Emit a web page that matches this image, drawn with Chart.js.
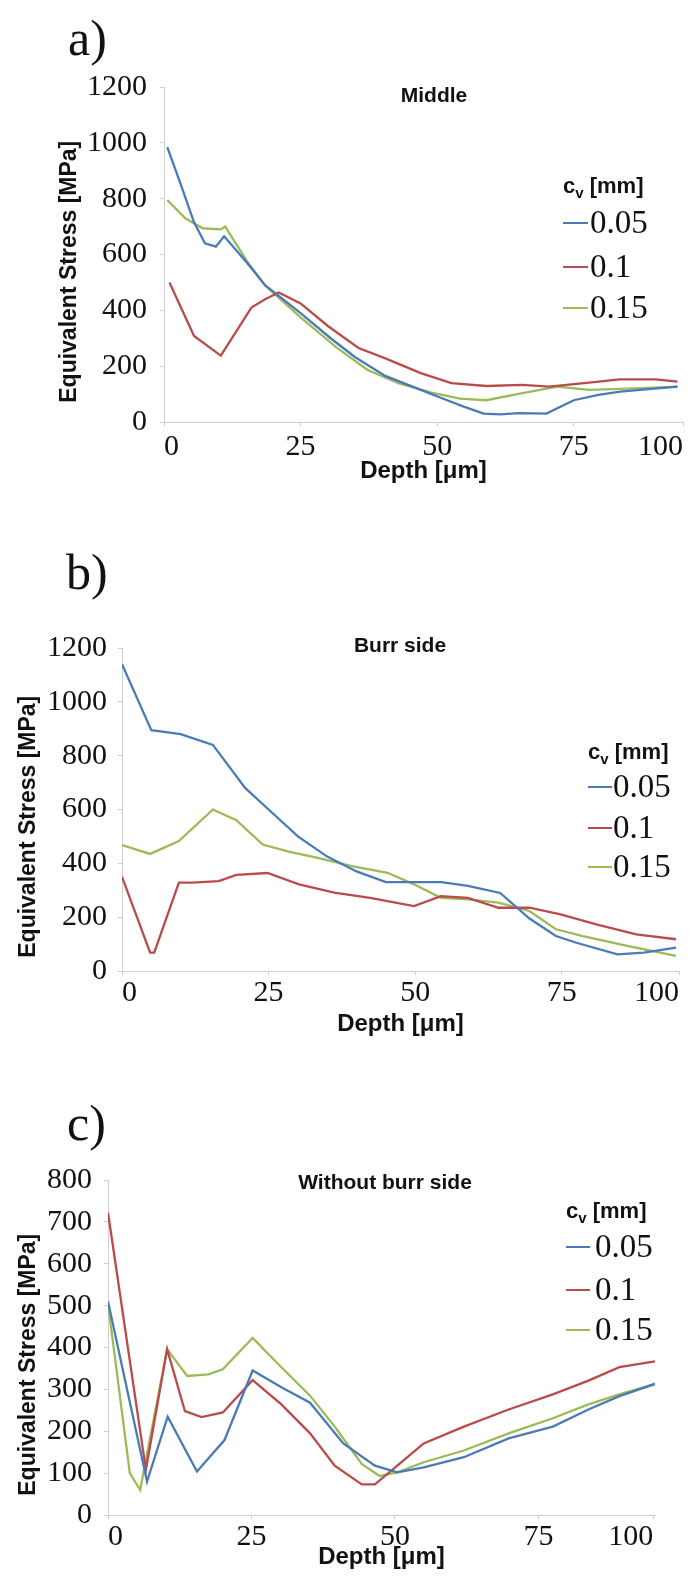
<!DOCTYPE html>
<html>
<head>
<meta charset="utf-8">
<script src="https://cdn.jsdelivr.net/npm/chart.js@4.4.0/dist/chart.umd.min.js"></script>
<style>
  html, body { margin:0; padding:0; background:#fff; }
  #page { position:relative; width:694px; height:1585px; overflow:hidden; background:#fff; }
  #page canvas { position:absolute; left:0; }
  .panel { position:absolute; font-family:"Liberation Serif", serif; font-size:50px; line-height:50px; color:#111; }
  .ttl { position:absolute; font-family:"Liberation Sans", Arial, sans-serif; font-weight:bold; font-size:21px; line-height:21px;
         color:#111; white-space:nowrap; transform:translateX(-50%); }
  .lhead { position:absolute; font-family:"Liberation Sans", Arial, sans-serif; font-weight:bold; font-size:22px; line-height:22px; color:#111; white-space:nowrap; }
  .lhead sub { font-size:15px; vertical-align:-5px; }
  .ldash { position:absolute; height:2px; }
  .ltxt { position:absolute; font-family:"Liberation Serif", serif; font-size:33px; line-height:33px; color:#111; }
</style>
</head>
<body>
<div id="page">
  <canvas id="chartA" width="694" height="500" style="top:0px;width:694px;height:500px"></canvas>
  <canvas id="chartB" width="694" height="545" style="top:500px;width:694px;height:545px"></canvas>
  <canvas id="chartC" width="694" height="540" style="top:1045px;width:694px;height:540px"></canvas>
</div>
<script>
// series names / colours (c_v in mm)
const seriesNames = ['0.05', '0.1', '0.15'];
const seriesColors = ['#4a7bb7', '#bb4b4b', '#9bbb59'];

const xTickValues = [0, 25, 50, 75, 95];
const xTickLabels = ['0', '25', '50', '75', '100'];

// a) Middle
const depthA1 = [0.6, 3, 5.5, 7.5, 9.5, 11, 15, 18.5, 25, 30.5, 35, 40.5, 47, 51, 55, 58.5, 61.5, 65, 70, 75, 79.5, 83.5, 94];
const stressA1 = [985, 855, 715, 640, 628, 665, 575, 490, 390, 300, 232, 165, 115, 84, 54, 30, 27, 32, 30, 78, 97, 109, 127];
const depthA2 = [1, 5.5, 10.4, 16, 18.5, 21, 25, 30, 35.6, 40.4, 47, 52.6, 59, 65.6, 70.5, 77.8, 83.4, 90, 94];
const stressA2 = [500, 308, 238, 410, 440, 464, 425, 344, 265, 229, 175, 139, 129, 133, 127, 141, 153, 153, 145];
const depthA3 = [0.6, 3.9, 7.1, 10.4, 11.2, 15.3, 18.5, 25, 31.5, 37.2, 42.9, 49.4, 54.2, 59, 65.6, 72, 77.8, 87.5, 94];
const stressA3 = [795, 730, 694, 690, 700, 573, 489, 375, 268, 187, 139, 103, 84, 78, 103, 127, 115, 121, 127];

// b) Burr side
const depthB1 = [0, 5, 10, 15.5, 21, 25, 30, 35, 40, 45, 50, 54.5, 59, 64.5, 69.5, 74, 77.5, 84.5, 89, 94.5];
const stressB1 = [1140, 895, 880, 840, 680, 600, 500, 425, 370, 330, 330, 330, 316, 290, 195, 130, 105, 62, 68, 87];
const depthB2 = [0, 4.8, 5.5, 9.7, 12, 16.5, 19.5, 24.8, 30.2, 36.2, 42.3, 49.8, 54.4, 59, 64.2, 69.5, 74.8, 80.9, 87.7, 94.5];
const stressB2 = [350, 68, 68, 328, 328, 334, 357, 364, 322, 291, 272, 241, 278, 272, 235, 235, 210, 173, 136, 118];
const depthB3 = [0, 4.8, 9.7, 15.5, 19.5, 24, 28.6, 33.2, 39.2, 45.3, 49.8, 54.4, 59, 64.2, 69.5, 74, 78.6, 86.2, 94.5];
const stressB3 = [468, 435, 483, 600, 560, 470, 443, 421, 390, 365, 322, 272, 266, 254, 223, 155, 130, 93, 56];

// c) Without burr side
const depthC1 = [0, 6.8, 10.4, 15.5, 20.3, 25.2, 30.2, 35.2, 41, 46.5, 50.4, 55, 62, 69.8, 77.5, 83.7, 89.1, 95.3];
const stressC1 = [510, 80, 235, 104, 179, 345, 305, 268, 171, 118, 102, 114, 138, 183, 211, 252, 284, 313];
const depthC2 = [0, 6.6, 10.3, 13.4, 16.3, 20, 25.2, 30.2, 35.2, 39.5, 44.2, 46.5, 50.4, 55, 62, 69.8, 77.5, 83.7, 89.1, 95.3];
const stressC2 = [722, 108, 396, 248, 234, 245, 322, 264, 195, 118, 73, 73, 118, 171, 211, 252, 288, 321, 353, 367];
const depthC3 = [0, 3.8, 5.6, 10.3, 13.8, 17.5, 20, 25.2, 30.2, 35.2, 39.5, 44.2, 47.3, 50.4, 55, 62, 69.8, 77.5, 83.7, 89.1, 95.3];
const stressC3 = [505, 100, 60, 396, 332, 336, 348, 423, 353, 285, 211, 122, 93, 102, 126, 154, 195, 231, 264, 288, 313];

const panels = [
  { id:'chartA', label:'a)', labelLeft:68, labelMid:38, title:'Middle', titleX:434, titleMid:95,
    depth:[depthA1, depthA2, depthA3], stress:[stressA1, stressA2, stressA3],
    yMax:1200, yStep:200, plot:{left:164, right:683, top:87, bottom:422},
    pad:{left:52, right:11, top:87, bottom:11}, xH:67, xTickPad:3, yTickPad:13, xMax:95,
    legend:{left:563, dash:25, text:590, head:187, items:[223, 267, 308]} },
  { id:'chartB', label:'b)', labelLeft:66, labelMid:572, title:'Burr side', titleX:400, titleMid:645,
    depth:[depthB1, depthB2, depthB3], stress:[stressB1, stressB2, stressB3],
    yMax:1200, yStep:200, plot:{left:122, right:679, top:148, bottom:471},
    pad:{left:11, right:15, top:148, bottom:3}, xH:71, xTickPad:0, yTickPad:11, xMax:95,
    legend:{left:588, dash:24, text:613, head:753, items:[787, 828, 867]} },
  { id:'chartC', label:'c)', labelLeft:67, labelMid:1123, title:'Without burr side', titleX:385, titleMid:1182,
    depth:[depthC1, depthC2, depthC3], stress:[stressC1, stressC2, stressC3],
    yMax:800, yStep:100, plot:{left:108, right:655, top:135, bottom:470},
    pad:{left:11, right:39, top:135, bottom:10}, xH:60, xTickPad:0, yTickPad:12, xMax:95.3,
    legend:{left:566, dash:24, text:595, head:1212, items:[1247, 1290, 1330]} }
];

const page = document.getElementById('page');
function addDiv(cls, html, css){
  const d = document.createElement('div');
  d.className = cls;
  d.innerHTML = html;
  Object.assign(d.style, css);
  page.appendChild(d);
  return d;
}

const axisGrey = '#cfcfcf';
const tickFont = { family:'Liberation Serif', size:30 };
const xTitleFont = { family:'Liberation Sans', size:24, weight:'bold' };
const yTitleFont = { family:'Liberation Sans', size:23, weight:'bold' };

panels.forEach(p => {
  // panel letter, title and legend as page text
  addDiv('panel', p.label, { left:p.labelLeft+'px', top:(p.labelMid-25)+'px' });
  addDiv('ttl', p.title, { left:p.titleX+'px', top:(p.titleMid-11)+'px' });
  addDiv('lhead', 'c<sub>v</sub> [mm]', { left:p.legend.left+'px', top:(p.legend.head-12)+'px' });
  seriesNames.forEach((n, i) => {
    const cy = p.legend.items[i];
    addDiv('ldash', '', { left:p.legend.left+'px', top:(cy-1)+'px', width:p.legend.dash+'px', background:seriesColors[i] });
    addDiv('ltxt', n, { left:p.legend.text+'px', top:(cy-17)+'px' });
  });

  const datasets = seriesNames.map((n, i) => ({
    label: n,
    data: p.depth[i].map((x, k) => ({ x: x, y: p.stress[i][k] })),
    borderColor: seriesColors[i],
    borderWidth: 2.3,
    pointRadius: 0,
    tension: 0,
    fill: false
  }));

  const ctx = document.getElementById(p.id).getContext('2d');
  new Chart(ctx, {
    type: 'line',
    data: { datasets },
    options: {
      responsive: false,
      animation: false,
      layout: { padding: p.pad },
      plugins: { legend: { display:false }, tooltip: { enabled:false } },
      scales: {
        x: {
          type: 'linear', min: 0, max: p.xMax,
          border: { color: axisGrey, width: 1 },
          grid: { drawOnChartArea:false, drawTicks:true, tickLength:4, color:axisGrey },
          afterBuildTicks: s => { s.ticks = xTickValues.map(v => ({ value: Math.min(v, p.xMax) })); },
          ticks: { font: tickFont, color:'#111', padding:p.xTickPad, maxRotation:0, autoSkip:false, align:'inner',
                   callback: (v, i) => xTickLabels[i] },
          title: { display:true, text:'Depth [μm]', font:xTitleFont, color:'#111', padding:{ top:0, bottom:3 } },
          afterFit: s => { s.height = p.xH; s.paddingLeft = 0; s.paddingRight = 0; }
        },
        y: {
          min: 0, max: p.yMax,
          border: { color: axisGrey, width: 1 },
          grid: { drawOnChartArea:false, drawTicks:true, tickLength:4, color:axisGrey },
          ticks: { stepSize:p.yStep, font: tickFont, color:'#111', padding:p.yTickPad,
                   callback: v => String(v) },
          // trailing wide spaces push the rotated title a little below the plot centre, as in the picture
          title: { display:true, text:'Equivalent Stress [MPa]\u2003\u2002', font:yTitleFont, color:'#111', padding:{ top:4, bottom:0 } },
          afterFit: s => { s.width = p.plot.left - p.pad.left; s.paddingTop = 0; s.paddingBottom = 0; }
        }
      }
    }
  });
});
</script>
</body>
</html>
